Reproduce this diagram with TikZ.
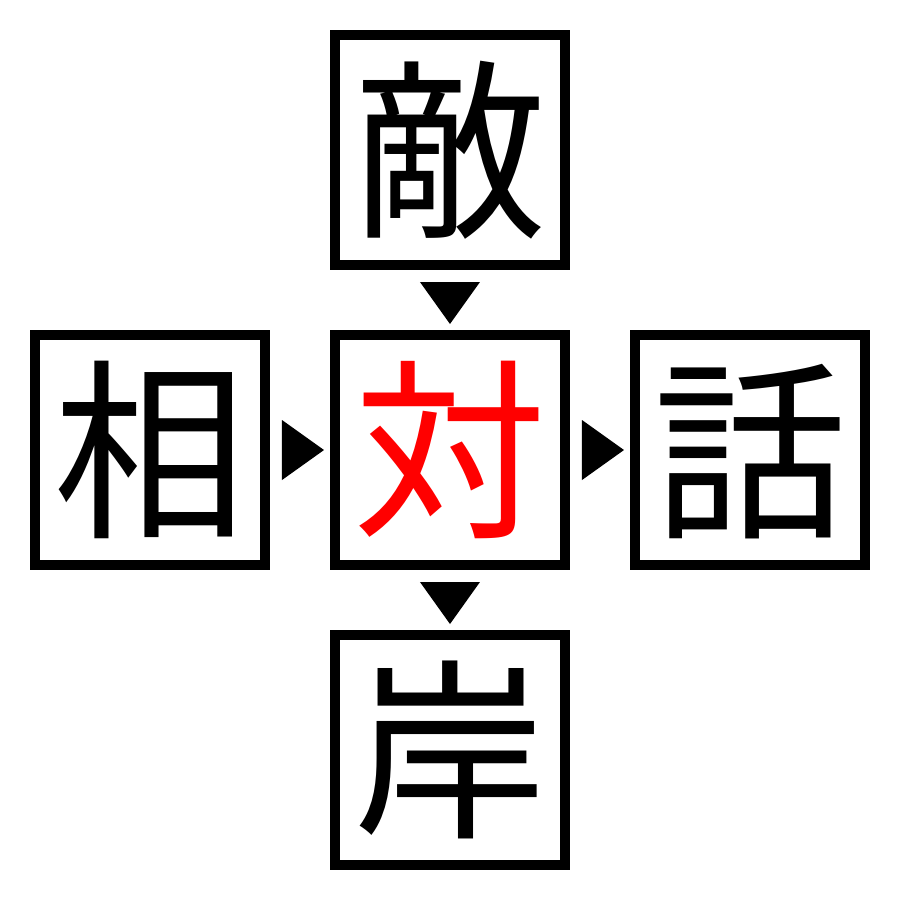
\documentclass[tikz,border=0pt]{standalone}
\usepackage{fontspec}
\newfontfamily\cjk{Noto Sans CJK JP}
\usetikzlibrary{positioning}

\begin{document}
\begin{tikzpicture}[%%
  boxStyle/.style={draw,line width=1mm,minimum size=2.3cm,inner sep=0pt,%%
    font=\cjk\fontsize{55}{55}\selectfont,text height=48.4pt,text depth=6.6pt},%%
  markStyle/.style={fill=black,draw=none},%%
  keyStyle/.style={text=red}%%
]
%%
%%
\pgfmathsetmacro{\gap}{0.6}
\pgfmathsetmacro{\half}{0.3}
\pgfmathsetmacro{\side}{4.5}
%%
%% Fix the page.
\useasboundingbox (-\side,-\side) rectangle (\side,\side);
%%
%% The centre box and its neighbours.
\node[boxStyle,keyStyle] (mid) at (0,0) {対};
\node[boxStyle,above=\gap of mid] (top) {敵};
\node[boxStyle,below=\gap of mid] (bottom) {岸};
\node[boxStyle,left=\gap of mid] (left) {相};
\node[boxStyle,right=\gap of mid] (right) {話};
%%
%% Downward marks.
\fill[markStyle] ([xshift=-\half cm,yshift=-1.2mm]top.south)
  -- ([xshift=\half cm,yshift=-1.2mm]top.south)
  -- ([yshift=0.6mm]mid.north) -- cycle;
\fill[markStyle] ([xshift=-\half cm,yshift=-1.2mm]mid.south)
  -- ([xshift=\half cm,yshift=-1.2mm]mid.south)
  -- ([yshift=0.6mm]bottom.north) -- cycle;
%%
%% Rightward marks.
\fill[markStyle] ([yshift=\half cm,xshift=1.2mm]left.east)
  -- ([yshift=-\half cm,xshift=1.2mm]left.east)
  -- ([xshift=-0.6mm]mid.west) -- cycle;
\fill[markStyle] ([yshift=\half cm,xshift=1.2mm]mid.east)
  -- ([yshift=-\half cm,xshift=1.2mm]mid.east)
  -- ([xshift=-0.6mm]right.west) -- cycle;
\end{tikzpicture}
\end{document}
